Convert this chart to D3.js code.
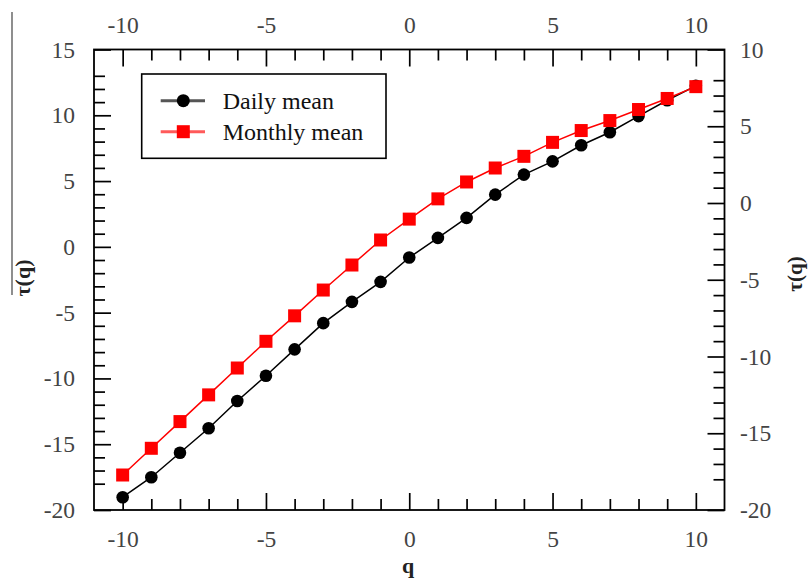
<!DOCTYPE html>
<html>
<head>
<meta charset="utf-8">
<script src="https://cdn.jsdelivr.net/npm/d3@7"></script>
<style>
  html, body { margin: 0; padding: 0; background: #fff; }
  svg { display: block; }
</style>
</head>
<body>
<svg id="chart" width="809" height="579"></svg>
<script>
// q values (moments)
const qValues = [-10, -9, -8, -7, -6, -5, -4, -3, -2, -1, 0, 1, 2, 3, 4, 5, 6, 7, 8, 9, 10];

// tau(q) for the daily-mean series (left axis)
const dailyTau = [-19.03, -17.51, -15.65, -13.79, -11.72, -9.80, -7.79, -5.80, -4.18, -2.66,
                  -0.81, 0.68, 2.20, 3.97, 5.49, 6.50, 7.72, 8.71, 9.94, 11.14, 12.24];

// tau(q) for the monthly-mean series (right axis)
const monthlyTau = [-17.72, -15.98, -14.24, -12.50, -10.75, -9.01, -7.35, -5.67, -4.04, -2.41,
                    -1.05, 0.27, 1.37, 2.28, 3.04, 3.95, 4.72, 5.37, 6.09, 6.81, 7.58];

const seriesNames = ["Daily mean", "Monthly mean"];

// axis ticks
const xMajorTicks = [-10, -5, 0, 5, 10];
const xMinorTicks = [-9, -8, -7, -6, -4, -3, -2, -1, 1, 2, 3, 4, 6, 7, 8, 9];
const leftMajorTicks = [-20, -15, -10, -5, 0, 5, 10, 15];
const leftMinorTicks = d3.range(-18, 14).filter(v => v % 5 !== 0);
const rightMajorTicks = [-20, -15, -10, -5, 0, 5, 10];
const rightMinorTicks = d3.range(-18, 9).filter(v => v % 5 !== 0);

const svg = d3.select("#chart");
const frame = { left: 94, right: 724.5, top: 49.5, bottom: 510 };
const FONT = "'Liberation Serif', 'Times New Roman', serif";

const x = d3.scaleLinear().domain([-11, 11]).range([frame.left, frame.right]);
const yLeft = d3.scaleLinear().domain([-20, 15]).range([frame.bottom, frame.top]);
const yRight = d3.scaleLinear().domain([-20, 10]).range([frame.bottom, frame.top]);

const fmt = d => (d < 0 ? "-" : "") + Math.abs(d);

function styleAxis(g) {
  g.select(".domain").remove();
  g.selectAll(".tick line").attr("stroke", "#000").attr("stroke-width", 1.7);
  g.selectAll(".tick text")
    .attr("font-family", FONT)
    .attr("font-size", 23.5)
    .attr("fill", "#444");
}

const MAJ = 17, MIN = 11;

// bottom axis
svg.append("g").attr("transform", `translate(0,${frame.bottom})`)
  .call(d3.axisBottom(x).tickValues(xMajorTicks).tickFormat(fmt).tickSizeInner(-MAJ).tickSizeOuter(0).tickPadding(20))
  .call(styleAxis);
svg.append("g").attr("transform", `translate(0,${frame.bottom})`)
  .call(d3.axisBottom(x).tickValues(xMinorTicks).tickFormat("").tickSizeInner(-MIN).tickSizeOuter(0))
  .call(styleAxis);

// top axis
svg.append("g").attr("transform", `translate(0,${frame.top})`)
  .call(d3.axisTop(x).tickValues(xMajorTicks).tickFormat(fmt).tickSizeInner(-MAJ).tickSizeOuter(0).tickPadding(17))
  .call(styleAxis);
svg.append("g").attr("transform", `translate(0,${frame.top})`)
  .call(d3.axisTop(x).tickValues(xMinorTicks).tickFormat("").tickSizeInner(-MIN).tickSizeOuter(0))
  .call(styleAxis);

// left axis
svg.append("g").attr("transform", `translate(${frame.left},0)`)
  .call(d3.axisLeft(yLeft).tickValues(leftMajorTicks).tickFormat(fmt).tickSizeInner(-MAJ).tickSizeOuter(0).tickPadding(19))
  .call(styleAxis);
svg.append("g").attr("transform", `translate(${frame.left},0)`)
  .call(d3.axisLeft(yLeft).tickValues(leftMinorTicks).tickFormat("").tickSizeInner(-MIN).tickSizeOuter(0))
  .call(styleAxis);

// right axis
svg.append("g").attr("transform", `translate(${frame.right},0)`)
  .call(d3.axisRight(yRight).tickValues(rightMajorTicks).tickFormat(fmt).tickSizeInner(-MAJ).tickSizeOuter(0).tickPadding(15.5))
  .call(styleAxis);
svg.append("g").attr("transform", `translate(${frame.right},0)`)
  .call(d3.axisRight(yRight).tickValues(rightMinorTicks).tickFormat("").tickSizeInner(-MIN).tickSizeOuter(0))
  .call(styleAxis);

// plot frame
svg.append("rect")
  .attr("x", frame.left).attr("y", frame.top)
  .attr("width", frame.right - frame.left).attr("height", frame.bottom - frame.top)
  .attr("fill", "none").attr("stroke", "#000").attr("stroke-width", 1.8);

// series
const daily = qValues.map((q, i) => ({ q, v: dailyTau[i] }));
const monthly = qValues.map((q, i) => ({ q, v: monthlyTau[i] }));

svg.append("path").datum(daily)
  .attr("fill", "none").attr("stroke", "#000").attr("stroke-width", 1.5)
  .attr("d", d3.line().x(d => x(d.q)).y(d => yLeft(d.v)));
svg.append("g").selectAll("circle").data(daily).join("circle")
  .attr("cx", d => x(d.q)).attr("cy", d => yLeft(d.v)).attr("r", 6.3).attr("fill", "#000");

svg.append("path").datum(monthly)
  .attr("fill", "none").attr("stroke", "#ff0000").attr("stroke-width", 1.5)
  .attr("d", d3.line().x(d => x(d.q)).y(d => yRight(d.v)));
const SQ = 13;
svg.append("g").selectAll("rect").data(monthly).join("rect")
  .attr("x", d => x(d.q) - SQ / 2).attr("y", d => yRight(d.v) - SQ / 2)
  .attr("width", SQ).attr("height", SQ).attr("fill", "#ff0000");

// legend
const legend = svg.append("g");
legend.append("rect")
  .attr("x", 141.7).attr("y", 74).attr("width", 244.3).attr("height", 84.3)
  .attr("fill", "#fff").attr("stroke", "#000").attr("stroke-width", 1.6);
const rows = [
  { name: seriesNames[0], y: 100.7, line: "#555", color: "#000", shape: "circle" },
  { name: seriesNames[1], y: 131.7, line: "#ff5a5a", color: "#ff0000", shape: "square" }
];
rows.forEach(r => {
  legend.append("line")
    .attr("x1", 160.7).attr("x2", 205).attr("y1", r.y).attr("y2", r.y)
    .attr("stroke", r.line).attr("stroke-width", 3);
  if (r.shape === "circle") {
    legend.append("circle").attr("cx", 183.3).attr("cy", r.y).attr("r", 6.5).attr("fill", r.color);
  } else {
    legend.append("rect").attr("x", 183.3 - 6.5).attr("y", r.y - 6.5)
      .attr("width", 13).attr("height", 13).attr("fill", r.color);
  }
  legend.append("text")
    .attr("x", 222.7).attr("y", r.y).attr("dy", "0.33em")
    .attr("font-family", FONT).attr("font-size", 24).attr("fill", "#111")
    .text(r.name);
});

// axis titles
svg.append("text")
  .attr("x", 408).attr("y", 573).attr("text-anchor", "middle")
  .attr("font-family", FONT).attr("font-size", 22).attr("font-weight", "bold").attr("fill", "#222")
  .text("q");

svg.append("text")
  .attr("transform", "translate(30,278) rotate(-90)")
  .attr("text-anchor", "middle")
  .attr("font-family", FONT).attr("font-size", 22).attr("font-weight", "bold").attr("fill", "#222")
  .text("τ(q)");
svg.append("line")
  .attr("x1", 12).attr("x2", 12).attr("y1", 12).attr("y2", 295)
  .attr("stroke", "#444").attr("stroke-width", 1.2);

svg.append("text")
  .attr("transform", "translate(802,274) rotate(-90)")
  .attr("text-anchor", "middle")
  .attr("font-family", FONT).attr("font-size", 21).attr("font-weight", "bold").attr("fill", "#222")
  .text("τ(q)");
</script>
</body>
</html>
